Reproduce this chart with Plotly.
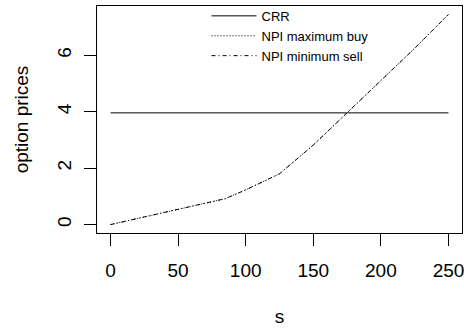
import plotly.graph_objects as go

# stock price grid and option prices
s = [0, 25, 50, 75, 85, 100, 125, 150, 175, 200, 225, 250]
npi_min_sell = [0.0, 0.27, 0.55, 0.80, 0.92, 1.23, 1.80, 2.82, 3.97, 5.10, 6.25, 7.45]
npi_max_buy = [0.0, 0.27, 0.55, 0.80, 0.92, 1.23, 1.80, 2.82, 3.97, 5.10, 6.25, 7.45]
crr_price = 3.96
crr = [crr_price] * len(s)

font = "Liberation Sans, Arial, Helvetica, sans-serif"

fig = go.Figure()
fig.add_trace(go.Scatter(x=s, y=crr, mode="lines", name="CRR",
                         line=dict(color="black", width=1)))
fig.add_trace(go.Scatter(x=s, y=npi_max_buy, mode="lines", name="NPI maximum buy",
                         line=dict(color="black", width=1, dash="1px,2px")))
fig.add_trace(go.Scatter(x=s, y=npi_min_sell, mode="lines", name="NPI minimum sell",
                         line=dict(color="black", width=1, dash="4px,3px,1px,3px")))

# R-style 4% padding
xr = max(s) - min(s)
ymax = max(max(npi_min_sell), max(npi_max_buy), crr_price)
ymin = 0
yr = ymax - ymin

axis_common = dict(showline=True, linecolor="black", linewidth=1, mirror=True,
                   ticks="outside", ticklen=12, tickcolor="black", showgrid=False,
                   zeroline=False, automargin=False, ticklabeloverflow="allow",
                   tickfont=dict(size=19, color="black", family=font))

fig.update_layout(
    width=464, height=332,
    margin=dict(l=97, r=2, t=5, b=99),
    paper_bgcolor="white", plot_bgcolor="white",
    font=dict(family=font, color="black"),
    xaxis=dict(range=[min(s) - 0.04 * xr, max(s) + 0.04 * xr],
               tickvals=[0, 50, 100, 150, 200, 250], ticklabelstandoff=8,
               title=dict(text="s", font=dict(size=19), standoff=29),
               **axis_common),
    yaxis=dict(range=[ymin - 0.04 * yr, ymax + 0.04 * yr],
               tickvals=[0, 2, 4, 6], tickangle=-90, ticklabelstandoff=5,
               title=dict(text="option prices", font=dict(size=19), standoff=20),
               **axis_common),
    legend=dict(x=0.30, y=1.018, xanchor="left", yanchor="top",
                bgcolor="rgba(0,0,0,0)", font=dict(size=13, color="black"),
                tracegroupgap=0, itemwidth=45),
    showlegend=True,
)

# drop the browser's default page margin so the figure sits at the window corner
fig.write_html("out.html", config={"displayModeBar": False},
               post_script="document.body.style.margin='0';")
